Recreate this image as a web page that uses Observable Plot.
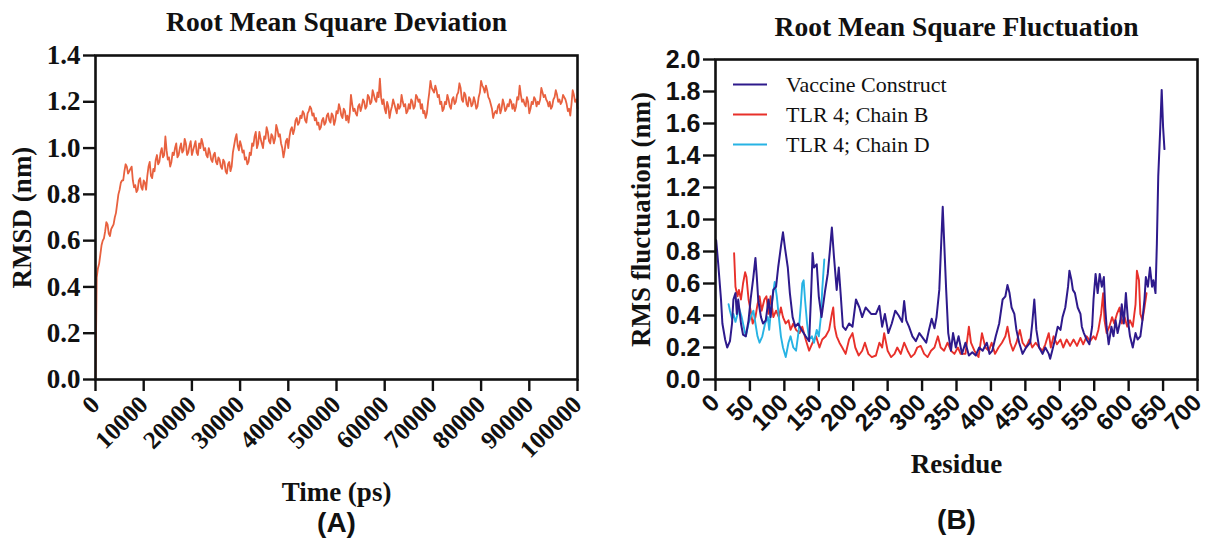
<!DOCTYPE html>
<html>
<head>
<meta charset="utf-8">
<script src="https://cdn.jsdelivr.net/npm/d3@7"></script>
<script src="https://cdn.jsdelivr.net/npm/@observablehq/plot@0.6"></script>
<style>
  html, body { margin: 0; padding: 0; background: #ffffff; }
  #fig { position: relative; width: 1212px; height: 544px; overflow: hidden; background: #ffffff; }
  #panelA { position: absolute; left: 0; top: 0; }
  #panelB { position: absolute; left: 600px; top: 0; }
</style>
</head>
<body>
<div id="fig"><div id="panelA"></div><div id="panelB"></div></div>
<script>
// ---------- Panel A: RMSD ----------
const titleA = "Root Mean Square Deviation";
const yLabelA = "RMSD (nm)";
const xLabelA = "Time (ps)";
const panelLabelA = "(A)";
const rmsdYTicks = [0, 0.2, 0.4, 0.6, 0.8, 1.0, 1.2, 1.4];
const rmsdXTicks = [0, 10000, 20000, 30000, 40000, 50000, 60000, 70000, 80000, 90000, 100000];
const rmsdStep = 250; // ps between samples
const rmsdValues = [
  0.00, 0.44, 0.48, 0.50, 0.54, 0.58, 0.60, 0.61, 0.64, 0.68, 0.67, 0.63, 0.62, 0.65, 0.66, 0.67, 0.70, 0.72, 0.76, 0.80,
  0.82, 0.85, 0.86, 0.86, 0.90, 0.93, 0.92, 0.89, 0.90, 0.91, 0.92, 0.86, 0.83, 0.84, 0.81, 0.82, 0.86, 0.87, 0.83, 0.82,
  0.86, 0.85, 0.82, 0.88, 0.92, 0.94, 0.88, 0.87, 0.91, 0.90, 0.95, 0.97, 0.93, 0.94, 0.98, 1.00, 0.96, 0.97, 1.05, 0.99,
  0.95, 0.96, 0.92, 0.94, 0.98, 0.97, 1.00, 1.02, 0.96, 0.97, 1.00, 1.02, 0.98, 0.99, 1.04, 1.02, 0.97, 0.98, 1.01, 1.03,
  0.97, 0.99, 1.01, 1.03, 0.98, 0.97, 1.02, 1.00, 1.04, 1.02, 0.99, 1.00, 0.97, 0.96, 1.00, 0.98, 0.95, 0.94, 0.97, 0.98,
  0.94, 0.93, 0.96, 0.95, 0.92, 0.91, 0.95, 0.94, 0.90, 0.89, 0.93, 0.94, 0.90, 0.92, 0.98, 1.01, 1.04, 1.06, 1.01, 0.99,
  1.03, 1.01, 0.98, 0.99, 0.95, 0.96, 0.93, 0.94, 0.98, 0.97, 1.02, 1.01, 1.05, 1.07, 1.00, 1.02, 1.07, 1.04, 1.02, 1.00,
  1.05, 1.04, 1.09, 1.07, 1.03, 1.02, 1.06, 1.05, 1.02, 1.04, 1.10, 1.08, 1.05, 1.06, 1.02, 1.00, 0.96, 0.99, 1.03, 1.04,
  1.00, 1.05, 1.08, 1.09, 1.06, 1.08, 1.12, 1.13, 1.10, 1.11, 1.14, 1.13, 1.16, 1.15, 1.12, 1.11, 1.15, 1.16, 1.18, 1.17,
  1.14, 1.15, 1.12, 1.13, 1.10, 1.11, 1.08, 1.09, 1.12, 1.13, 1.10, 1.11, 1.14, 1.15, 1.12, 1.11, 1.15, 1.14, 1.10, 1.12,
  1.16, 1.15, 1.19, 1.17, 1.14, 1.13, 1.17, 1.16, 1.12, 1.14, 1.11, 1.15, 1.23, 1.19, 1.16, 1.17, 1.15, 1.14, 1.18, 1.19,
  1.16, 1.18, 1.21, 1.20, 1.17, 1.18, 1.23, 1.22, 1.19, 1.20, 1.25, 1.23, 1.21, 1.20, 1.24, 1.22, 1.30, 1.22, 1.19, 1.21,
  1.17, 1.15, 1.20, 1.18, 1.13, 1.16, 1.18, 1.21, 1.19, 1.17, 1.15, 1.19, 1.17, 1.18, 1.23, 1.20, 1.18, 1.19, 1.15, 1.16,
  1.19, 1.17, 1.21, 1.20, 1.17, 1.18, 1.23, 1.22, 1.20, 1.21, 1.17, 1.19, 1.15, 1.16, 1.13, 1.15, 1.20, 1.24, 1.29, 1.26,
  1.25, 1.24, 1.27, 1.25, 1.22, 1.23, 1.19, 1.20, 1.16, 1.17, 1.20, 1.19, 1.23, 1.21, 1.18, 1.17, 1.21, 1.22, 1.19, 1.20,
  1.23, 1.24, 1.28, 1.26, 1.21, 1.20, 1.24, 1.23, 1.19, 1.18, 1.22, 1.21, 1.18, 1.19, 1.22, 1.20, 1.17, 1.18, 1.22, 1.24,
  1.29, 1.27, 1.26, 1.24, 1.27, 1.25, 1.22, 1.21, 1.19, 1.17, 1.13, 1.15, 1.16, 1.15, 1.18, 1.19, 1.15, 1.17, 1.21, 1.19,
  1.16, 1.17, 1.19, 1.18, 1.21, 1.20, 1.17, 1.19, 1.16, 1.18, 1.22, 1.21, 1.27, 1.23, 1.20, 1.21, 1.19, 1.18, 1.22, 1.20,
  1.15, 1.17, 1.20, 1.19, 1.22, 1.21, 1.18, 1.20, 1.19, 1.21, 1.26, 1.24, 1.22, 1.23, 1.21, 1.20, 1.18, 1.20, 1.17, 1.18,
  1.21, 1.22, 1.25, 1.23, 1.20, 1.21, 1.19, 1.20, 1.23, 1.22, 1.21, 1.19, 1.16, 1.17, 1.14, 1.19, 1.25, 1.23, 1.20, 1.21,
  1.17
];

// ---------- Panel B: RMSF ----------
const titleB = "Root Mean Square Fluctuation";
const yLabelB = "RMS fluctuation (nm)";
const xLabelB = "Residue";
const panelLabelB = "(B)";
const rmsfYTicks = [0, 0.2, 0.4, 0.6, 0.8, 1.0, 1.2, 1.4, 1.6, 1.8, 2.0];
const rmsfXTicks = [0, 50, 100, 150, 200, 250, 300, 350, 400, 450, 500, 550, 600, 650, 700];
const seriesNames = ["Vaccine Construct", "TLR 4; Chain B", "TLR 4; Chain D"];
const seriesColors = ["#2e1a8c", "#e8302a", "#27b3e4"];

const vaccineResidue = [1,4,8,10,14,17,21,24,26,29,31,33,37,40,44,48,51,55,58,60,62,66,69,73,77,80,84,88,91,95,98,101,105,108,112,116,120,125,131,136,139,141,143,147,150,154,159,163,166,169,172,176,179,182,185,189,194,199,204,209,213,218,226,233,238,242,246,251,256,261,266,271,274,277,281,286,291,296,301,306,310,314,318,321,325,327,330,332,335,338,342,345,349,353,358,363,368,373,378,383,388,394,398,402,407,412,417,421,424,427,430,434,437,441,446,451,457,460,463,466,470,475,479,484,486,489,493,497,501,504,508,512,514,517,519,522,526,530,532,535,539,543,547,549,552,555,558,561,564,566,568,571,575,578,581,584,588,590,593,596,599,602,606,610,613,617,620,623,625,628,631,634,636,639,641,643,646,648,650,652];
const vaccineRmsf = [0.87,0.72,0.50,0.35,0.25,0.20,0.24,0.35,0.50,0.54,0.41,0.50,0.35,0.28,0.27,0.37,0.50,0.64,0.76,0.64,0.50,0.39,0.35,0.37,0.50,0.39,0.56,0.58,0.70,0.83,0.92,0.82,0.70,0.54,0.39,0.33,0.35,0.31,0.27,0.24,0.55,0.79,0.70,0.72,0.52,0.39,0.55,0.66,0.80,0.95,0.77,0.56,0.70,0.52,0.33,0.31,0.35,0.33,0.50,0.45,0.39,0.45,0.41,0.41,0.46,0.33,0.41,0.29,0.35,0.43,0.40,0.36,0.49,0.37,0.33,0.27,0.24,0.29,0.26,0.23,0.31,0.38,0.32,0.39,0.56,0.77,1.08,0.87,0.56,0.29,0.18,0.29,0.20,0.27,0.16,0.23,0.15,0.17,0.15,0.20,0.18,0.23,0.16,0.18,0.27,0.35,0.50,0.52,0.59,0.54,0.45,0.41,0.31,0.23,0.16,0.20,0.23,0.35,0.50,0.31,0.20,0.16,0.20,0.16,0.13,0.18,0.25,0.33,0.31,0.39,0.45,0.58,0.68,0.62,0.56,0.54,0.45,0.41,0.33,0.29,0.25,0.22,0.33,0.50,0.66,0.54,0.66,0.58,0.64,0.45,0.33,0.22,0.33,0.27,0.37,0.29,0.37,0.47,0.35,0.54,0.37,0.27,0.20,0.29,0.25,0.27,0.37,0.50,0.64,0.58,0.70,0.58,0.62,0.54,0.85,1.27,1.58,1.81,1.58,1.44];

const chainBResidue = [27,29,32,34,37,40,43,45,48,51,54,58,61,64,67,71,74,77,80,84,88,92,95,98,102,106,109,113,117,122,126,131,136,141,146,151,155,160,165,169,171,173,176,180,184,189,194,199,203,208,213,217,222,227,233,238,242,245,250,255,260,264,269,274,279,284,289,293,298,303,308,313,318,323,327,332,337,342,347,352,356,363,368,371,376,382,387,392,397,401,406,411,416,421,424,428,432,437,442,446,451,456,460,465,470,475,479,484,487,491,496,501,505,510,515,520,525,530,534,539,544,549,552,556,560,563,565,568,572,576,579,583,587,590,594,598,602,606,610,612,615,617,620,623,626];
const chainBRmsf = [0.79,0.58,0.52,0.56,0.50,0.60,0.67,0.64,0.50,0.43,0.35,0.39,0.47,0.52,0.43,0.50,0.52,0.41,0.52,0.39,0.43,0.39,0.45,0.39,0.35,0.37,0.31,0.35,0.31,0.29,0.33,0.25,0.18,0.23,0.27,0.20,0.25,0.27,0.31,0.41,0.45,0.33,0.27,0.23,0.20,0.16,0.25,0.29,0.20,0.15,0.18,0.23,0.16,0.14,0.15,0.23,0.20,0.29,0.18,0.14,0.16,0.20,0.16,0.23,0.18,0.14,0.16,0.20,0.21,0.16,0.14,0.18,0.20,0.27,0.20,0.18,0.23,0.18,0.16,0.20,0.16,0.16,0.33,0.23,0.18,0.14,0.29,0.20,0.18,0.23,0.16,0.20,0.23,0.27,0.33,0.23,0.18,0.23,0.31,0.23,0.20,0.25,0.20,0.23,0.20,0.18,0.22,0.29,0.20,0.27,0.22,0.25,0.20,0.25,0.21,0.25,0.21,0.26,0.22,0.27,0.24,0.27,0.25,0.31,0.41,0.54,0.37,0.29,0.33,0.39,0.35,0.41,0.45,0.35,0.39,0.33,0.37,0.33,0.47,0.68,0.62,0.41,0.37,0.45,0.54];

const chainDResidue = [19,21,24,26,29,32,34,38,42,44,48,51,55,58,61,64,68,72,76,78,80,83,86,89,92,95,98,102,106,109,113,117,121,124,126,128,130,133,136,140,143,147,150,153,155,158];
const chainDRmsf = [0.47,0.43,0.38,0.41,0.36,0.41,0.45,0.39,0.31,0.27,0.35,0.39,0.43,0.35,0.27,0.23,0.27,0.35,0.39,0.31,0.41,0.52,0.61,0.52,0.39,0.27,0.20,0.14,0.23,0.27,0.20,0.18,0.31,0.47,0.60,0.62,0.50,0.35,0.25,0.27,0.23,0.31,0.27,0.39,0.56,0.75];

// ---------- Build ----------
const serif = "'Liberation Serif', 'Times New Roman', serif";
const sans = "'Liberation Sans', Arial, sans-serif";
const ink = "#111111";

const rmsdData = rmsdValues.map((v, i) => ({time: i * rmsdStep, rmsd: v}));
const toRows = (res, vals, name) => res.map((r, i) => ({residue: r, rmsf: vals[i], series: name}));
const vaccineData = toRows(vaccineResidue, vaccineRmsf, seriesNames[0]);
const chainBData = toRows(chainBResidue, chainBRmsf, seriesNames[1]);
const chainDData = toRows(chainDResidue, chainDRmsf, seriesNames[2]);

const label = (txt, opts) => Plot.text([txt], {text: d => d, fill: ink, textAnchor: "middle", lineAnchor: "middle", ...opts});

const plotA = Plot.plot({
  width: 600, height: 544,
  marginLeft: 95, marginRight: 23, marginTop: 55, marginBottom: 165,
  style: {background: "transparent", overflow: "visible"},
  x: {domain: [0, 100000]},
  y: {domain: [0, 1.4]},
  marks: [
    Plot.line(rmsdData, {x: "time", y: "rmsd", stroke: "#e8613f", strokeWidth: 1.8}),
    Plot.frame({stroke: ink, strokeWidth: 2.6}),
    Plot.axisY(rmsdYTicks, {tickSize: 12, tickPadding: 3, stroke: ink, strokeWidth: 2.4, fill: ink,
      tickFormat: d3.format(".1f"), fontSize: 27, fontFamily: serif, fontWeight: "bold", label: null}),
    Plot.axisX(rmsdXTicks, {tickSize: 12, tickPadding: 9, tickRotate: -45, textAnchor: "end", stroke: ink, strokeWidth: 2.4, fill: ink,
      tickFormat: d => String(d), fontSize: 25, fontFamily: serif, fontWeight: "bold", label: null}),
    label(titleA, {frameAnchor: "top", dy: -33, fontSize: 27.5, fontFamily: serif, fontWeight: "bold"}),
    label(yLabelA, {frameAnchor: "left", dx: -73, rotate: -90, fontSize: 27, fontFamily: serif, fontWeight: "bold"}),
    label(xLabelA, {frameAnchor: "bottom", dy: 113, fontSize: 27, fontFamily: serif, fontWeight: "bold"}),
    label(panelLabelA, {frameAnchor: "bottom", dy: 144, fontSize: 28, fontFamily: sans, fontWeight: "bold"})
  ]
});

function legendMark(index, scales, values, dims) {
  const g = d3.create("svg:g");
  seriesNames.forEach((name, i) => {
    const y = dims.marginTop + 25.6 + i * 30;
    g.append("line")
      .attr("x1", dims.marginLeft + 18).attr("x2", dims.marginLeft + 52)
      .attr("y1", y).attr("y2", y)
      .attr("stroke", seriesColors[i]).attr("stroke-width", 2);
    g.append("text")
      .attr("x", dims.marginLeft + 71).attr("y", y).attr("dy", "0.32em")
      .attr("text-anchor", "start")
      .attr("font-family", serif).attr("font-size", 22).attr("fill", ink)
      .text(name);
  });
  return g.node();
}

const plotB = Plot.plot({
  width: 612, height: 544,
  marginLeft: 115, marginRight: 15, marginTop: 59, marginBottom: 165,
  style: {background: "transparent", overflow: "visible"},
  x: {domain: [0, 700]},
  y: {domain: [0, 2.0]},
  marks: [
    Plot.line(chainBData, {x: "residue", y: "rmsf", stroke: seriesColors[1], strokeWidth: 1.9}),
    Plot.line(chainDData, {x: "residue", y: "rmsf", stroke: seriesColors[2], strokeWidth: 1.9}),
    Plot.line(vaccineData, {x: "residue", y: "rmsf", stroke: seriesColors[0], strokeWidth: 2}),
    Plot.frame({stroke: ink, strokeWidth: 2.6}),
    Plot.axisY(rmsfYTicks, {tickSize: 12, tickPadding: 3, stroke: ink, strokeWidth: 2.4, fill: ink,
      tickFormat: d3.format(".1f"), fontSize: 25, fontFamily: sans, fontWeight: "bold", label: null}),
    Plot.axisX(rmsfXTicks, {tickSize: 12, tickPadding: 7, tickRotate: -45, textAnchor: "end", stroke: ink, strokeWidth: 2.4, fill: ink,
      tickFormat: d => String(d), fontSize: 24, fontFamily: sans, fontWeight: "bold", label: null}),
    legendMark,
    label(titleB, {frameAnchor: "top", dy: -32, fontSize: 27.5, fontFamily: serif, fontWeight: "bold"}),
    label(yLabelB, {frameAnchor: "left", dx: -74, rotate: -90, fontSize: 27, fontFamily: serif, fontWeight: "bold"}),
    label(xLabelB, {frameAnchor: "bottom", dy: 85, fontSize: 27, fontFamily: serif, fontWeight: "bold"}),
    label(panelLabelB, {frameAnchor: "bottom", dy: 141, fontSize: 28, fontFamily: sans, fontWeight: "bold"})
  ]
});

document.getElementById("panelA").appendChild(plotA);
document.getElementById("panelB").appendChild(plotB);
</script>
</body>
</html>
